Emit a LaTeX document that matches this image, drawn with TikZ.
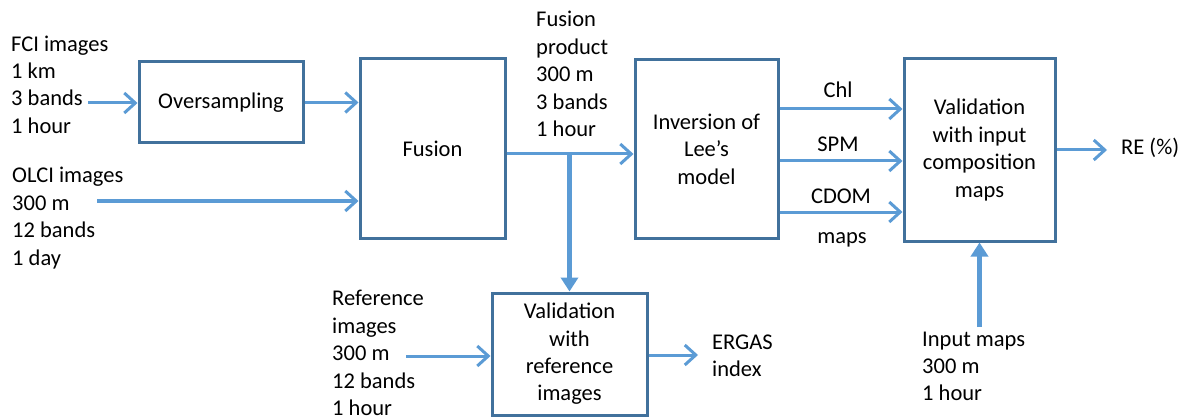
\documentclass[tikz,border=0pt]{standalone}
\usepackage{fontspec}
\setmainfont{Carlito}
\usetikzlibrary{arrows.meta}
\definecolor{arrowblue}{RGB}{91,155,213}
\definecolor{boxblue}{RGB}{65,113,156}
\begin{document}
\begin{tikzpicture}[x=1pt,y=-1pt,
  every node/.style={font=\fontsize{22.5}{27.4}\selectfont, inner sep=0pt},
  box/.style={draw=boxblue, line width=3pt, align=center, fill=white},
  lbl/.style={align=left, anchor=north west},
  arr/.style={draw=arrowblue, line width=3pt, -{Straight Barb[length=11pt,width=20pt]}},
  varr/.style={draw=arrowblue, line width=5pt, -{Triangle[length=14pt,width=17pt]}}
]
\useasboundingbox (0,0) rectangle (1184,417);

% boxes
\node[box, minimum width=164pt, minimum height=81pt] (over) at (221,102.5) {Oversampling};
\node[box, minimum width=145pt, minimum height=179pt] (fus) at (432.5,148.5) {Fusion};
\node[box, minimum width=143pt, minimum height=178pt] (inv) at (706.5,149) {Inversion of\\Lee’s\\model};
\node[box, minimum width=151pt, minimum height=182pt] (valin) at (979.5,150) {Validation\\with input\\composition\\maps};
\node[box, minimum width=155pt, minimum height=122pt] (valref) at (569.5,354) {Validation\\with\\reference\\images};

% labels
\node[lbl] (fci) at (11,31.8) {\strut FCI images\\1 km\\3 bands\\1 hour};
\node[lbl] (olci) at (12,163.5) {\strut OLCI images\\300 m\\12 bands\\1 day};
\node[lbl] (fprod) at (536,7.5) {\strut Fusion\\product\\300 m\\3 bands\\1 hour};
\node[lbl] (refimg) at (332,286.5) {\strut Reference\\images\\300 m\\12 bands\\1 hour};
\node[lbl] (inmaps) at (922,326.8) {\strut Input maps\\300 m\\1 hour};
\node[lbl] (ergas) at (712,330) {\strut ERGAS\\index};
\node[anchor=base west] (re) at (1121,155) {RE (\%)};
\node[anchor=base] (chl) at (838,98) {Chl};
\node[anchor=base] (spm) at (838,152) {SPM};
\node[anchor=base] (cdom) at (841,204) {CDOM};
\node[anchor=base] (maps) at (842,243) {maps};

% coordinates
\coordinate (fciend) at (88,103);
\coordinate (olcistart) at (97,201);
\coordinate (junc) at (569.5,154);
\coordinate (reend) at (1107,150);
\coordinate (inmapstart) at (979.5,327);
\coordinate (refstart) at (406,356);
\coordinate (ergend) at (698,355);
\coordinate (ychl) at (0,109);
\coordinate (yspm) at (0,161);
\coordinate (ycdom) at (0,212);

% connectors
\draw[arr] (fciend) -- (over.west |- fciend);
\draw[arr] (over.east) -- (fus.west |- over.east);
\draw[arr] (olcistart) -- (fus.west |- olcistart);
\draw[arr] (fus.east |- junc) -- (inv.west |- junc);
\draw[varr] (junc) -- (valref.north);
\draw[arr] (inv.east |- ychl) -- (valin.west |- ychl);
\draw[arr] (inv.east |- yspm) -- (valin.west |- yspm);
\draw[arr] (inv.east |- ycdom) -- (valin.west |- ycdom);
\draw[arr] (valin.east) -- (reend);
\draw[varr] (inmapstart) -- (valin.south);
\draw[arr] (refstart) -- (valref.west |- refstart);
\draw[arr] (valref.east |- ergend) -- (ergend);
\end{tikzpicture}
\end{document}
